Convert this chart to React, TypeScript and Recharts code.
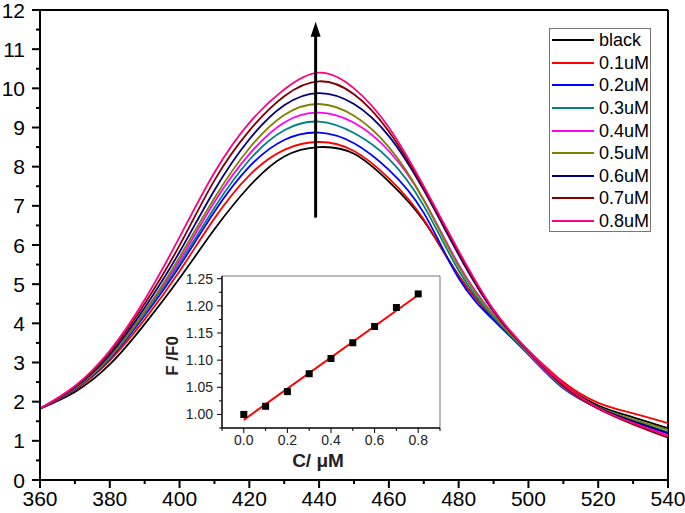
import {
  LineChart, Line, XAxis, YAxis, ReferenceLine, ReferenceDot, Legend,
  ScatterChart, Scatter, Label,
} from 'recharts';

// emission spectra (nm vs intensity)
const WAVELENGTH = [360, 370, 380, 390, 400, 410, 420, 430, 440, 450, 460, 470, 480, 490, 500, 510, 520, 530, 540];
const BLACK = [1.82, 2.25, 2.95, 3.98, 5.15, 6.4, 7.5, 8.26, 8.5, 8.33, 7.62, 6.62, 5.22, 4.12, 3.25, 2.45, 1.9, 1.6, 1.32];
const C01 = [1.82, 2.3, 3.05, 4.1, 5.33, 6.68, 7.78, 8.43, 8.63, 8.4, 7.7, 6.65, 5.2, 4.15, 3.3, 2.5, 1.97, 1.7, 1.45];
const C02 = [1.82, 2.32, 3.1, 4.2, 5.46, 6.85, 8.0, 8.68, 8.87, 8.6, 7.92, 6.82, 5.15, 4.08, 3.2, 2.34, 1.84, 1.48, 1.18];
const C03 = [1.82, 2.33, 3.12, 4.25, 5.53, 6.95, 8.17, 8.93, 9.15, 8.86, 8.2, 7.0, 5.35, 4.15, 3.22, 2.36, 1.84, 1.52, 1.22];
const C04 = [1.82, 2.35, 3.15, 4.3, 5.61, 7.1, 8.32, 9.13, 9.38, 9.12, 8.4, 7.15, 5.5, 4.22, 3.24, 2.38, 1.83, 1.46, 1.15];
const C05 = [1.82, 2.34, 3.15, 4.3, 5.69, 7.2, 8.47, 9.32, 9.6, 9.3, 8.5, 7.15, 5.45, 4.2, 3.25, 2.4, 1.86, 1.55, 1.28];
const C06 = [1.82, 2.36, 3.2, 4.4, 5.82, 7.4, 8.7, 9.57, 9.88, 9.6, 8.78, 7.4, 5.75, 4.3, 3.28, 2.42, 1.85, 1.5, 1.2];
const C07 = [1.82, 2.38, 3.25, 4.5, 5.99, 7.65, 8.92, 9.8, 10.18, 9.85, 8.9, 7.45, 5.8, 4.32, 3.28, 2.4, 1.82, 1.42, 1.08];
const C08 = [1.82, 2.4, 3.3, 4.6, 6.2, 7.85, 9.12, 9.97, 10.4, 10.0, 9.0, 7.5, 5.85, 4.35, 3.3, 2.45, 1.84, 1.45, 1.12];

const X_TICKS = [360, 370, 380, 390, 400, 410, 420, 430, 440, 450, 460, 470, 480, 490, 500, 510, 520, 530, 540];
const Y_TICKS = [0, 0.5, 1, 1.5, 2, 2.5, 3, 3.5, 4, 4.5, 5, 5.5, 6, 6.5, 7, 7.5, 8, 8.5, 9, 9.5, 10, 10.5, 11, 11.5, 12];

// inset: F/F0 vs concentration
const CONC = [0, 0.1, 0.2, 0.3, 0.4, 0.5, 0.6, 0.7, 0.8];
const RATIO = [1.0, 1.015, 1.042, 1.075, 1.103, 1.132, 1.162, 1.197, 1.222];
const FIT_X = [0, 0.8];
const FIT_Y = [0.99, 1.22];
const INSET_X_TICKS = [-0.1, 0, 0.1, 0.2, 0.3, 0.4, 0.5, 0.6, 0.7, 0.8, 0.9];
const INSET_Y_TICKS = [0.975, 1.0, 1.025, 1.05, 1.075, 1.1, 1.125, 1.15, 1.175, 1.2, 1.225, 1.25];

const SERIES = [
  { key: 'black', name: 'black', color: '#000000', values: BLACK },
  { key: 'c01', name: '0.1uM', color: '#ff0000', values: C01 },
  { key: 'c02', name: '0.2uM', color: '#0000ff', values: C02 },
  { key: 'c03', name: '0.3uM', color: '#008080', values: C03 },
  { key: 'c04', name: '0.4uM', color: '#ff00ff', values: C04 },
  { key: 'c05', name: '0.5uM', color: '#808000', values: C05 },
  { key: 'c06', name: '0.6uM', color: '#000080', values: C06 },
  { key: 'c07', name: '0.7uM', color: '#800000', values: C07 },
  { key: 'c08', name: '0.8uM', color: '#ff0080', values: C08 },
];

const chartData = WAVELENGTH.map((w, i) => {
  const row: any = { w };
  SERIES.forEach((s) => { row[s.key] = s.values[i]; });
  return row;
});
const pointData = CONC.map((c, i) => ({ c, f: RATIO[i] }));
const fitData = FIT_X.map((c, i) => ({ c, f: FIT_Y[i] }));

const FONT = '"Liberation Sans", Arial, sans-serif';

function MainXTick({ x, y, payload }: any) {
  const v = payload.value;
  const major = v % 20 === 0;
  return (
    <g>
      <line x1={x} y1={y} x2={x} y2={y + (major ? 8 : 4)} stroke="#000" strokeWidth={2} />
      {major && (
        <text x={x} y={y + 26} textAnchor="middle" fontSize={21} fontFamily={FONT} fill="#000">{v}</text>
      )}
    </g>
  );
}

function MainYTick({ x, y, payload }: any) {
  const v = payload.value;
  const major = Number.isInteger(v);
  return (
    <g>
      <line x1={x} y1={y} x2={x - (major ? 8 : 4)} y2={y} stroke="#000" strokeWidth={2} />
      {major && (
        <text x={x - 15} y={y} dy="0.36em" textAnchor="end" fontSize={21} fontFamily={FONT} fill="#000">{v}</text>
      )}
    </g>
  );
}

function InsetXTick({ x, y, payload }: any) {
  const v = payload.value;
  const major = Math.round(v * 10) % 2 === 0;
  return (
    <g>
      <line x1={x} y1={y} x2={x} y2={y + (major ? 5 : 3)} stroke="#000" strokeWidth={1} />
      {major && (
        <text x={x} y={y + 12} dy="0.36em" textAnchor="middle" fontSize={14} fontFamily={FONT} fill="#222">{v.toFixed(1)}</text>
      )}
    </g>
  );
}

function InsetYTick({ x, y, payload }: any) {
  const v = payload.value;
  const major = Math.round(v * 1000) % 50 === 0;
  return (
    <g>
      <line x1={x} y1={y} x2={x - (major ? 5 : 3)} y2={y} stroke="#000" strokeWidth={1} />
      {major && (
        <text x={x - 9} y={y} dy="0.36em" textAnchor="end" fontSize={14} fontFamily={FONT} fill="#222">{v.toFixed(2)}</text>
      )}
    </g>
  );
}

function ArrowHead({ cx, cy }: any) {
  return <polygon points={`${cx},${cy} ${cx - 5},${cy + 15} ${cx + 5},${cy + 15}`} fill="#000" />;
}

function Square({ cx, cy }: any) {
  return <rect x={cx - 3.5} y={cy - 3.5} width={7} height={7} fill="#000" />;
}

function LegendBox() {
  return (
    <div style={{ width: 102, height: 204, border: '1px solid #777', background: '#fff', boxSizing: 'border-box', fontFamily: FONT }}>
      {SERIES.map((s) => (
        <div key={s.key} style={{ display: 'flex', alignItems: 'center', height: 22.6 }}>
          <svg width={49} height={4} style={{ flex: 'none' }}>
            <line x1={2} x2={44} y1={2} y2={2} stroke={s.color} strokeWidth={2} />
          </svg>
          <span style={{ fontSize: 18, lineHeight: '18px', color: '#000' }}>{s.name}</span>
        </div>
      ))}
    </div>
  );
}

export default function App() {
  return (
    <div style={{ position: 'absolute', left: 0, top: 0, width: 685, height: 513, background: '#fff', fontFamily: FONT }}>
      <LineChart width={685} height={513} data={chartData} margin={{ top: 10, right: 17, bottom: 0, left: 0 }}>
        <XAxis
          dataKey="w" type="number" domain={[360, 540]} ticks={X_TICKS} interval={0}
          tick={<MainXTick />} tickLine={false} tickSize={0} tickMargin={0}
          axisLine={{ stroke: '#000', strokeWidth: 2 }} height={33} allowDataOverflow
        />
        <YAxis
          type="number" domain={[0, 12]} ticks={Y_TICKS} interval={0}
          tick={<MainYTick />} tickLine={false} tickSize={0} tickMargin={0}
          axisLine={{ stroke: '#000', strokeWidth: 2 }} width={40} allowDataOverflow
        />
        <ReferenceLine y={12} stroke="#000" strokeWidth={2} />
        <ReferenceLine x={540} stroke="#000" strokeWidth={2} />
        {SERIES.map((s) => (
          <Line
            key={s.key} dataKey={s.key} name={s.name} stroke={s.color} strokeWidth={1.8}
            type="natural" dot={false} isAnimationActive={false}
          />
        ))}
        <ReferenceLine segment={[{ x: 439, y: 6.7 }, { x: 439, y: 11.4 }]} stroke="#000" strokeWidth={3} />
        <ReferenceDot x={439} y={11.7} shape={<ArrowHead />} />
        <Legend
          content={<LegendBox />} layout="vertical" align="center" verticalAlign="middle"
          wrapperStyle={{ left: 549, top: 28, width: 102 }}
        />
      </LineChart>

      <div style={{ position: 'absolute', left: 160, top: 262 }}>
        <ScatterChart width={300} height={210} margin={{ top: 14, right: 20, bottom: 0, left: 12 }}>
          <XAxis
            dataKey="c" type="number" domain={[-0.1, 0.9]} ticks={INSET_X_TICKS} interval={0}
            tick={<InsetXTick />} tickLine={false} tickSize={0} tickMargin={0}
            axisLine={{ stroke: '#000', strokeWidth: 1.5 }} height={44} allowDataOverflow
          >
            <Label
              content={() => (
                <text x={158} y={205} textAnchor="middle" fontSize={19} fontWeight="bold" fontFamily={FONT} fill="#222">C/ μM</text>
              )}
            />
          </XAxis>
          <YAxis
            dataKey="f" type="number" domain={[0.975, 1.255]} ticks={INSET_Y_TICKS} interval={0}
            tick={<InsetYTick />} tickLine={false} tickSize={0} tickMargin={0}
            axisLine={{ stroke: '#000', strokeWidth: 1.5 }} width={50} allowDataOverflow
          >
            <Label
              content={() => (
                <text
                  x={12} y={94} textAnchor="middle" dominantBaseline="central" transform="rotate(-90 12 94)"
                  fontSize={17} fontWeight="bold" fontFamily={FONT} fill="#222"
                >F /F0</text>
              )}
            />
          </YAxis>
          <ReferenceLine y={1.255} stroke="#777" strokeWidth={1} />
          <ReferenceLine x={0.9} stroke="#777" strokeWidth={1} />
          <Scatter data={fitData} line={{ stroke: '#ff0000', strokeWidth: 2 }} shape={() => <g />} isAnimationActive={false} />
          <Scatter data={pointData} shape={<Square />} isAnimationActive={false} />
        </ScatterChart>
      </div>
    </div>
  );
}
